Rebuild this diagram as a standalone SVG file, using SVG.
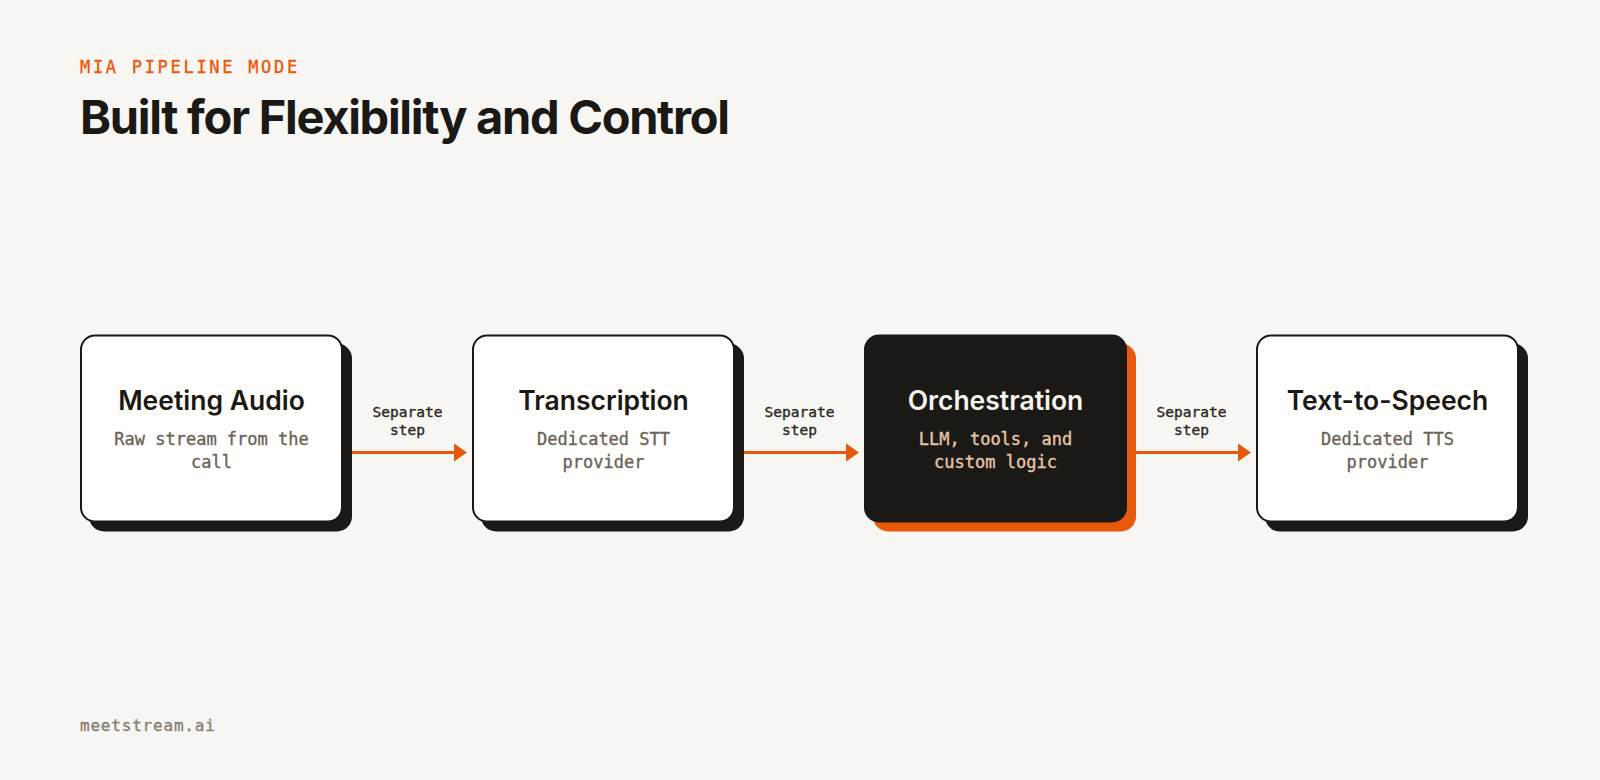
<svg xmlns="http://www.w3.org/2000/svg" width="1600" height="780" viewBox="0 0 1600 780">
  <defs>
    <style>
      .mono { font-family: "DejaVu Sans Mono", "Liberation Mono", monospace; stroke-width: 0.35px; }
      .eyebrow { font-size: 17px; fill: #e8590c; stroke: #e8590c; letter-spacing: 2.7px; }
      .title { font-family: Inter, "Liberation Sans", sans-serif; font-weight: 700; font-size: 47px; fill: #1b1915; }
      .ntitle { font-family: Inter, "Liberation Sans", sans-serif; font-weight: 600; font-size: 26.5px; fill: #1b1915; text-anchor: middle; }
      .nsub { font-size: 17px; fill: #6b645a; stroke: #6b645a; text-anchor: middle; }
      .dark .ntitle { fill: #f7f4ee; }
      .dark .nsub { fill: #e5c6aa; stroke: #e5c6aa; }
      .box { fill: #fffefc; stroke: #1b1915; stroke-width: 2; }
      .shadow { fill: #1b1915; }
      .dark .box { fill: #1b1915; stroke: #1b1915; }
      .dark .shadow { fill: #e8590c; }
      .lbl { font-size: 14.5px; fill: #2a2620; stroke: #2a2620; text-anchor: middle; }
      .conn { stroke: #e8590c; stroke-width: 3; fill: none; }
      .head { fill: #e8590c; }
      .foot { font-size: 16px; fill: #8a8071; stroke: #8a8071; letter-spacing: 0.8px; }
    </style>
  </defs>
  <rect x="0" y="0" width="1600" height="780" fill="#f7f6f3"/>

  <text class="mono eyebrow" x="80" y="73">MIA PIPELINE MODE</text>
  <text class="title" x="80" y="134" textLength="650" lengthAdjust="spacing">Built for Flexibility and Control</text>

  <g id="connectors">
    <g id="c1">
      <line class="conn" x1="350" y1="452.5" x2="455" y2="452.5"/>
      <polygon class="head" points="454,443.5 467,452.5 454,461.5"/>
      <text class="mono lbl" x="407.5" y="417">Separate</text>
      <text class="mono lbl" x="407.5" y="435">step</text>
    </g>
    <g id="c2">
      <line class="conn" x1="742" y1="452.5" x2="847" y2="452.5"/>
      <polygon class="head" points="846,443.5 859,452.5 846,461.5"/>
      <text class="mono lbl" x="799.5" y="417">Separate</text>
      <text class="mono lbl" x="799.5" y="435">step</text>
    </g>
    <g id="c3">
      <line class="conn" x1="1134" y1="452.5" x2="1239" y2="452.5"/>
      <polygon class="head" points="1238,443.5 1251,452.5 1238,461.5"/>
      <text class="mono lbl" x="1191.5" y="417">Separate</text>
      <text class="mono lbl" x="1191.5" y="435">step</text>
    </g>
  </g>

  <g id="node-meeting-audio">
    <rect class="shadow" x="89" y="343.5" width="263" height="188" rx="15"/>
    <rect class="box" x="81" y="335.5" width="261" height="186" rx="14"/>
    <text class="ntitle" x="211.5" y="410">Meeting Audio</text>
    <text class="mono nsub" x="211.5" y="445">Raw stream from the</text>
    <text class="mono nsub" x="211.5" y="467.5">call</text>
  </g>

  <g id="node-transcription">
    <rect class="shadow" x="481" y="343.5" width="263" height="188" rx="15"/>
    <rect class="box" x="473" y="335.5" width="261" height="186" rx="14"/>
    <text class="ntitle" x="603.5" y="410">Transcription</text>
    <text class="mono nsub" x="603.5" y="445">Dedicated STT</text>
    <text class="mono nsub" x="603.5" y="467.5">provider</text>
  </g>

  <g id="node-orchestration" class="dark">
    <rect class="shadow" x="873" y="343.5" width="263" height="188" rx="15"/>
    <rect class="box" x="865" y="335.5" width="261" height="186" rx="14"/>
    <text class="ntitle" x="995.5" y="410">Orchestration</text>
    <text class="mono nsub" x="995.5" y="445">LLM, tools, and</text>
    <text class="mono nsub" x="995.5" y="467.5">custom logic</text>
  </g>

  <g id="node-tts">
    <rect class="shadow" x="1265" y="343.5" width="263" height="188" rx="15"/>
    <rect class="box" x="1257" y="335.5" width="261" height="186" rx="14"/>
    <text class="ntitle" x="1387.5" y="410">Text-to-Speech</text>
    <text class="mono nsub" x="1387.5" y="445">Dedicated TTS</text>
    <text class="mono nsub" x="1387.5" y="467.5">provider</text>
  </g>

  <text class="mono foot" x="80" y="731">meetstream.ai</text>
</svg>
